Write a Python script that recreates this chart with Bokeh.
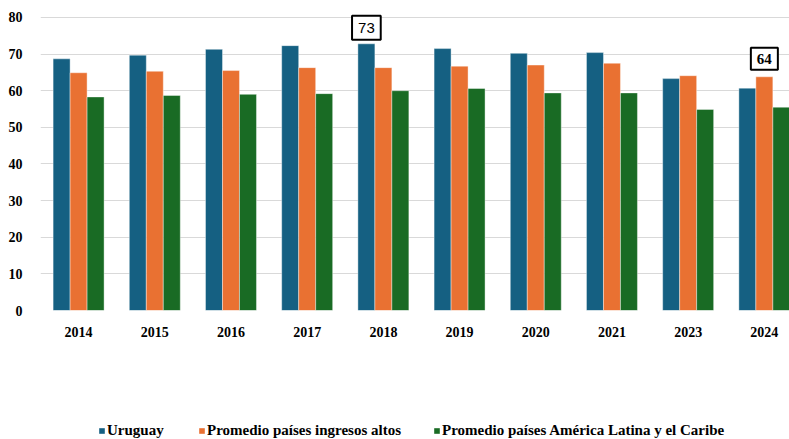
from bokeh.plotting import figure
from bokeh.layouts import column
from bokeh.models import ColumnDataSource, Range1d, FixedTicker, Legend, LegendItem, Label
from bokeh.embed import file_html
from bokeh.resources import INLINE

years = ["2014", "2015", "2016", "2017", "2018", "2019", "2020", "2021", "2023", "2024"]
uruguay = [68.7, 69.7, 71.3, 72.3, 72.8, 71.5, 70.2, 70.4, 63.3, 60.7]
altos = [64.9, 65.3, 65.5, 66.3, 66.3, 66.7, 67.0, 67.5, 64.1, 63.8]
latam = [58.3, 58.7, 59.0, 59.2, 60.0, 60.6, 59.4, 59.4, 54.9, 55.5]
series_names = ["Uruguay", "Promedio países ingresos altos", "Promedio países América Latina y el Caribe"]
colors = ["#156082", "#E97132", "#196B24"]
y_ticks = [0, 10, 20, 30, 40, 50, 60, 70, 80]

FONT = "Liberation Serif"
SANS = "Liberation Sans"
xs = list(range(len(years)))
bw = 0.223

p = figure(width=789, height=345, output_backend="svg", toolbar_location=None,
           x_range=Range1d(-0.5, 9.33), y_range=Range1d(0, 81.35),
           min_border_left=40, min_border_right=0, min_border_top=12, min_border_bottom=35)
p.outline_line_color = None
p.background_fill_color = "white"
p.border_fill_color = "white"

renderers = []
for i, (vals, col) in enumerate(zip([uruguay, altos, latam], colors)):
    src = ColumnDataSource(dict(x=[x + (i - 1) * bw for x in xs], top=vals))
    r = p.vbar(x="x", top="top", width=bw, bottom=0, source=src, fill_color=col,
               line_color="white", line_width=0.8, line_alpha=0.5)
    renderers.append(r)

p.xaxis.ticker = FixedTicker(ticks=xs)
p.xaxis.major_label_overrides = {i: y for i, y in enumerate(years)}
p.yaxis.ticker = FixedTicker(ticks=y_ticks)
for ax in (p.xaxis, p.yaxis):
    ax.axis_line_color = None
    ax.major_tick_line_color = None
    ax.minor_tick_line_color = None
    ax.major_label_text_font = FONT
    ax.major_label_text_font_style = "bold"
    ax.major_label_text_font_size = "14px"
    ax.major_label_text_color = "black"
p.xaxis.major_label_standoff = 10
p.yaxis.major_label_standoff = 12
p.xgrid.grid_line_color = None
p.ygrid.ticker = FixedTicker(ticks=y_ticks)
p.ygrid.grid_line_color = "#d9d9d9"
p.ygrid.grid_line_width = 1

# annotated value boxes
ann = [(xs[4] - bw, uruguay[4], 4, SANS, "normal", dict(x=6, y=7)),
       (xs[9], altos[9], 7, FONT, "bold", dict(x=6, y=6))]
for x, v, yo, fnt, sty, pad in ann:
    lab = Label(x=x, y=v, text=f"{round(v)}", y_offset=yo,
                text_align="center", text_baseline="bottom",
                text_font=fnt, text_font_style=sty, text_font_size="15px",
                text_color="black", border_line_color="black", border_line_width=2,
                background_fill_color="white", padding=pad)
    p.add_layout(lab)

# legend strip below the chart
p2 = figure(width=789, height=94, output_backend="svg", toolbar_location=None,
            x_range=Range1d(0, 1), y_range=Range1d(0, 1),
            x_axis_type=None, y_axis_type=None,
            min_border_left=0, min_border_right=0, min_border_top=0, min_border_bottom=0)
p2.outline_line_color = None
p2.xgrid.grid_line_color = None
p2.ygrid.grid_line_color = None

legend_x = [58, 158, 393]
for name, col, lx in zip(series_names, colors, legend_x):
    d = p2.vbar(x=[-5], top=[-5], bottom=[-6], width=0.1, fill_color=col, line_color=None)
    lg = Legend(items=[LegendItem(label=name, renderers=[d])],
                orientation="horizontal", location=(lx, 0),
                glyph_width=7, glyph_height=7, label_standoff=2,
                padding=0, margin=0, label_height=18,
                label_text_font=FONT, label_text_font_style="bold", label_text_font_size="15px",
                label_text_color="black", border_line_color=None, background_fill_alpha=0)
    p2.add_layout(lg, "center")

layout = column(p, p2, spacing=0)
open("out.html", "w").write(file_html(layout, INLINE))
